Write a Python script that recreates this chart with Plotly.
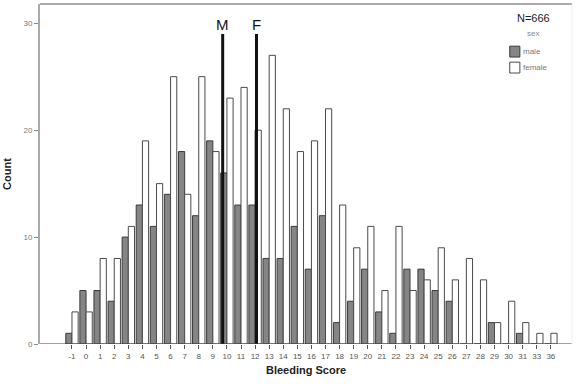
import plotly.graph_objects as go

# Bleeding score categories and counts per sex
scores = [-1, 0, 1, 2, 3, 4, 5, 6, 7, 8, 9, 10, 11, 12, 13, 14, 15, 16, 17,
          18, 19, 20, 21, 22, 23, 24, 25, 26, 27, 28, 29, 30, 31, 33, 36]
male = [1, 5, 5, 4, 10, 13, 11, 14, 18, 12, 19, 16, 13, 13, 8, 8, 11, 7, 12,
        2, 4, 7, 3, 1, 7, 7, 5, 4, 0, 0, 2, 0, 1, 0, 0]
female = [3, 3, 8, 8, 11, 19, 15, 25, 14, 25, 18, 23, 24, 20, 27, 22, 18, 19, 22,
          13, 9, 11, 5, 11, 5, 6, 9, 6, 8, 6, 2, 4, 2, 1, 1]
y_ticks = [0, 10, 20, 30]

# Mean bleeding score per sex (drawn as vertical markers)
mean_labels = ["M", "F"]
mean_values = [9.7, 12.1]
mean_line_top = 29

labels = [str(s) for s in scores]
n_total = sum(male) + sum(female)

MALE_FILL, MALE_EDGE = "#858585", "#3a3a3a"
FEMALE_FILL, FEMALE_EDGE = "#ffffff", "#4a4a4a"
FONT = "Liberation Sans, Arial"


def score_to_pos(v):
    # position on the categorical axis (scores -1..31 are contiguous)
    return scores.index(int(v)) + (v - int(v))


fig = go.Figure()
fig.add_trace(go.Bar(x=labels, y=male, name="male", showlegend=False,
                     marker=dict(color=MALE_FILL, line=dict(color=MALE_EDGE, width=1))))
fig.add_trace(go.Bar(x=labels, y=female, name="female", showlegend=False,
                     marker=dict(color=FEMALE_FILL, line=dict(color=FEMALE_EDGE, width=1))))

for lab, val in zip(mean_labels, mean_values):
    p = score_to_pos(val)
    fig.add_shape(type="line", xref="x", yref="y", x0=p, x1=p, y0=0, y1=mean_line_top,
                  line=dict(color="#111111", width=3))
    fig.add_annotation(x=p, y=mean_line_top, xref="x", yref="y", text=lab,
                       showarrow=False, yanchor="bottom", yshift=-1,
                       font=dict(family=FONT, size=15, color="#111111"))

# legend block: sample size, variable name and swatches
fig.add_annotation(xref="paper", yref="paper", x=0.927, y=0.959, text=f"N={n_total}",
                   showarrow=False, xanchor="center", yanchor="middle",
                   font=dict(family=FONT, size=11, color="#222222"))
fig.add_annotation(xref="paper", yref="paper", x=0.927, y=0.912, text="sex",
                   showarrow=False, xanchor="center", yanchor="middle",
                   font=dict(family=FONT, size=8, color="#888888"))
legend_rows = [("male", MALE_FILL, MALE_EDGE, 0.876), ("female", FEMALE_FILL, FEMALE_EDGE, 0.829)]
for name, fill, edge, ytop in legend_rows:
    fig.add_shape(type="rect", xref="paper", yref="paper", x0=0.883, x1=0.902,
                  y0=ytop - 0.032, y1=ytop, fillcolor=fill, line=dict(color=edge, width=1))
    fig.add_annotation(xref="paper", yref="paper", x=0.905, y=ytop - 0.016, text=name,
                       showarrow=False, xanchor="left", yanchor="middle",
                       font=dict(family=FONT, size=8, color="#777777"))

fig.update_layout(
    width=577, height=386,
    margin=dict(l=40, r=5, t=4, b=42),
    paper_bgcolor="white", plot_bgcolor="white",
    barmode="group", bargap=0.12, bargroupgap=0.0,
    font=dict(family=FONT, size=8, color="#555555"),
    showlegend=False,
    xaxis=dict(type="category", range=[-2.27, 35.5], showgrid=False,
               ticks="outside", ticklen=4, tickcolor="#555555",
               tickfont=dict(size=8, color="#555555"), tickangle=0,
               showline=False, zeroline=False,
               title=dict(text="<b>Bleeding Score</b>", standoff=6,
                          font=dict(size=11, color="#222222"))),
    yaxis=dict(range=[0, 31.8], tickvals=y_ticks, showgrid=False,
               ticks="outside", ticklen=4, tickcolor="#888888",
               tickfont=dict(size=8, color="#777777"),
               showline=True, linecolor="#aaaaaa", linewidth=2, mirror=False,
               zeroline=False,
               title=dict(text="<b>Count</b>", standoff=10,
                          font=dict(size=11, color="#222222"))),
)

# baseline and plot frame
fig.add_shape(type="line", xref="paper", yref="y", x0=0, x1=1, y0=0, y1=0,
              line=dict(color="#444444", width=1))
fig.add_shape(type="line", xref="paper", yref="paper", x0=0, x1=1, y0=1, y1=1,
              line=dict(color="#aaaaaa", width=2))
fig.add_shape(type="line", xref="paper", yref="paper", x0=1, x1=1, y0=0, y1=1,
              line=dict(color="#eeeeee", width=1))

fig.write_html("out.html")
